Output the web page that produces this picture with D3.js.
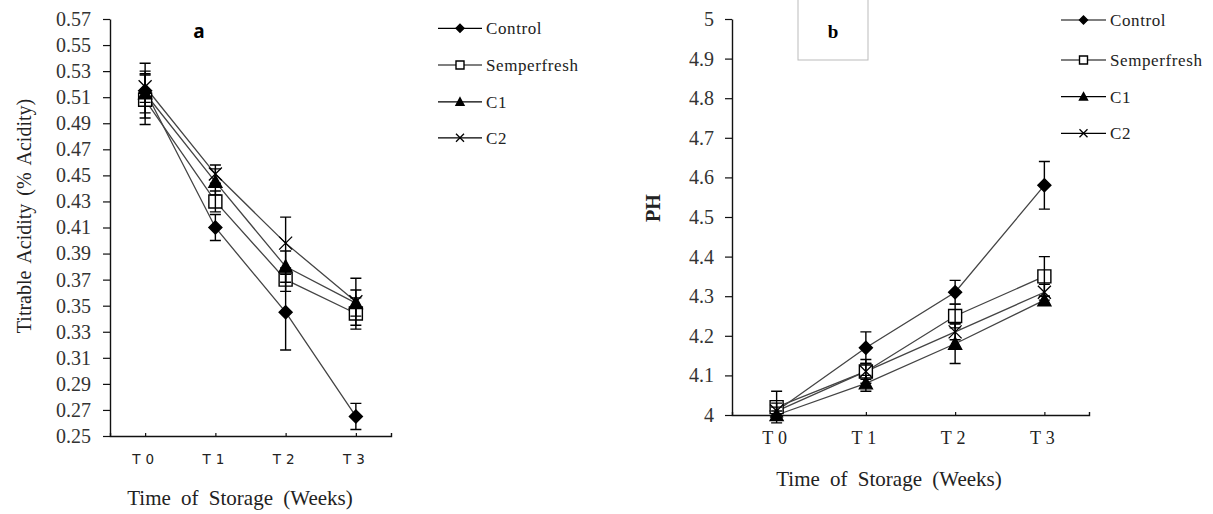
<!DOCTYPE html>
<html>
<head>
<meta charset="utf-8">
<script src="https://cdn.jsdelivr.net/npm/d3@7"></script>
<style>
  html, body { margin: 0; padding: 0; background: #fff; }
  svg { display: block; }
  .serif { font-family: "Times New Roman", "Liberation Serif", Tinos, "DejaVu Serif", serif; }
</style>
</head>
<body>
<svg id="chart"></svg>
<script>
// ---- data ----
const categories = ["T0", "T1", "T2", "T3"];
const seriesNames = ["Control", "Semperfresh", "C1", "C2"];

// panel a: titrable acidity (% acidity)
const acidityControl = [0.515, 0.41, 0.345, 0.265];
const aciditySemperfresh = [0.508, 0.43, 0.37, 0.344];
const acidityC1 = [0.513, 0.445, 0.38, 0.352];
const acidityC2 = [0.518, 0.451, 0.398, 0.353];
const acidityErrControl = [0.021, 0.01, 0.029, 0.01];
const acidityErrSemperfresh = [0.019, 0.008, 0.009, 0.012];
const acidityErrC1 = [0.015, 0.01, 0.012, 0.01];
const acidityErrC2 = [0.012, 0.007, 0.02, 0.018];
const acidityTicks = [0.25, 0.27, 0.29, 0.31, 0.33, 0.35, 0.37, 0.39, 0.41, 0.43, 0.45, 0.47, 0.49, 0.51, 0.53, 0.55, 0.57];

// panel b: pH
const pHControl = [4.01, 4.17, 4.31, 4.58];
const pHSemperfresh = [4.02, 4.11, 4.25, 4.35];
const pHC1 = [4.0, 4.08, 4.18, 4.29];
const pHC2 = [4.01, 4.11, 4.21, 4.31];
const pHErrControl = [0.02, 0.04, 0.03, 0.06];
const pHErrSemperfresh = [0.04, 0.03, 0.03, 0.05];
const pHErrC1 = [0.01, 0.02, 0.05, 0.01];
const pHErrC2 = [0.01, 0.02, 0.02, 0.02];
const pHTicks = [4, 4.1, 4.2, 4.3, 4.4, 4.5, 4.6, 4.7, 4.8, 4.9, 5];

const markerKinds = ["diamond", "square", "triangle", "cross"];

const svg = d3.select("#chart").attr("width", 1213).attr("height", 514);

// marker path centred on 0,0 with half size s
function markerPath(kind, s) {
  if (kind === "diamond") return `M0,${-s}L${s},0L0,${s}L${-s},0Z`;
  if (kind === "square") return `M${-s},${-s}H${s}V${s}H${-s}Z`;
  if (kind === "triangle") return `M0,${-s}L${s},${s * 0.85}L${-s},${s * 0.85}Z`;
  return `M${-s},${-s}L${s},${s}M${-s},${s}L${s},${-s}`;
}

function styleMarker(sel, kind) {
  sel
    .attr("fill", kind === "square" ? "#fff" : kind === "cross" ? "none" : "#000")
    .attr("stroke", "#000")
    .attr("stroke-width", kind === "cross" ? 1.3 : 1.4);
}

function drawPanel(cfg) {
  const g = svg.append("g");

  const x = d3.scalePoint().domain(categories).range(cfg.xRange).padding(0.5);
  const y = d3.scaleLinear().domain(cfg.yDomain).range(cfg.yRange);

  // y axis
  const yAxis = g.append("g")
    .attr("transform", `translate(${cfg.xRange[0]},0)`)
    .call(d3.axisLeft(y).tickValues(cfg.ticks).tickFormat(cfg.tickFormat)
      .tickSize(7).tickSizeOuter(0).tickPadding(cfg.yPad));
  yAxis.attr("font-family", null);
  yAxis.select(".domain").attr("stroke", "#111").attr("stroke-width", 1.4);
  yAxis.selectAll(".tick line").attr("stroke", "#111").attr("stroke-width", 1.2);
  yAxis.selectAll("text")
    .attr("class", "serif")
    .attr("font-size", 20)
    .attr("fill", "#333");

  // x axis, ticks pointing up into the plot
  const xAxis = g.append("g")
    .attr("transform", `translate(0,${cfg.yRange[0]})`)
    .call(d3.axisBottom(x).tickSize(-3).tickSizeOuter(-3).tickPadding(cfg.xPad));
  xAxis.attr("font-family", null);
  xAxis.select(".domain").attr("stroke", "#111").attr("stroke-width", 1.4);
  xAxis.selectAll(".tick line").attr("stroke", "#111").attr("stroke-width", 1.2);
  xAxis.selectAll("text")
    .attr("class", cfg.xSerif ? "serif" : null)
    .attr("font-family", cfg.xSerif ? null : "'DejaVu Sans', sans-serif")
    .attr("font-size", cfg.xFontSize)
    .attr("letter-spacing", cfg.xSpacing)
    .attr("fill", "#222");

  const series = seriesNames.map((name, i) => ({
    name,
    kind: markerKinds[i],
    values: cfg.values[i].map((v, j) => ({ cat: categories[j], v, e: cfg.errors[i][j] })),
  }));

  const line = d3.line().x((d) => x(d.cat)).y((d) => y(d.v));

  g.append("g").selectAll("path")
    .data(series)
    .join("path")
    .attr("d", (d) => line(d.values))
    .attr("fill", "none")
    .attr("stroke", "#444")
    .attr("stroke-width", 1.3);

  series.forEach((s) => {
    g.append("g").selectAll("path")
      .data(s.values)
      .join("path")
      .attr("transform", (d) => `translate(${x(d.cat)},${y(d.v)})`)
      .attr("d", markerPath(s.kind, 6.5))
      .call(styleMarker, s.kind);
  });

  // error bars drawn over the markers
  const capHalf = 5.5;
  series.forEach((s) => {
    g.append("g").selectAll("path")
      .data(s.values)
      .join("path")
      .attr("d", (d) => {
        const cx = x(d.cat);
        const top = y(d.v + d.e);
        const bot = y(d.v - d.e);
        return `M${cx},${top}V${bot}M${cx - capHalf},${top}H${cx + capHalf}M${cx - capHalf},${bot}H${cx + capHalf}`;
      })
      .attr("fill", "none")
      .attr("stroke", "#000")
      .attr("stroke-width", 1.4);
  });

  // axis titles
  g.append("text")
    .attr("class", "serif")
    .attr("transform", `translate(${cfg.yTitlePos[0]},${cfg.yTitlePos[1]}) rotate(-90)`)
    .attr("text-anchor", "middle")
    .attr("font-size", cfg.yTitleSize)
    .attr("font-weight", cfg.yTitleWeight)
    .attr("word-spacing", cfg.yTitleWordSpacing)
    .attr("fill", "#222")
    .text(cfg.yTitle);

  g.append("text")
    .attr("class", "serif")
    .attr("x", cfg.xTitlePos[0])
    .attr("y", cfg.xTitlePos[1])
    .attr("text-anchor", "middle")
    .attr("font-size", 21)
    .attr("word-spacing", 5)
    .attr("fill", "#222")
    .text("Time of Storage (Weeks)");

  // panel letter
  if (cfg.letterBox) {
    g.append("rect")
      .attr("x", cfg.letterBox[0])
      .attr("y", cfg.letterBox[1])
      .attr("width", cfg.letterBox[2])
      .attr("height", cfg.letterBox[3])
      .attr("fill", "#fff")
      .attr("stroke", "#bbb")
      .attr("stroke-width", 1);
  }
  g.append("text")
    .attr("class", cfg.letterSerif ? "serif" : null)
    .attr("font-family", cfg.letterSerif ? null : "'Noto Sans', sans-serif")
    .attr("x", cfg.letterPos[0])
    .attr("y", cfg.letterPos[1])
    .attr("text-anchor", "middle")
    .attr("font-size", 19)
    .attr("font-weight", "bold")
    .attr("fill", "#000")
    .text(cfg.letter);

  // legend
  const lg = g.append("g");
  series.forEach((s, i) => {
    const ly = cfg.legendRows[i];
    const [lx0, lx1] = cfg.legendLine;
    lg.append("line")
      .attr("x1", lx0).attr("x2", lx1)
      .attr("y1", ly).attr("y2", ly)
      .attr("stroke", "#000")
      .attr("stroke-width", 1.2);
    lg.append("path")
      .attr("transform", `translate(${(lx0 + lx1) / 2},${ly})`)
      .attr("d", markerPath(s.kind, 4))
      .call(styleMarker, s.kind);
    lg.append("text")
      .attr("class", "serif")
      .attr("x", lx1 + 4)
      .attr("y", ly + 6)
      .attr("font-size", 17)
      .attr("letter-spacing", 0.6)
      .attr("fill", "#222")
      .text(s.name);
  });
}

drawPanel({
  xRange: [110, 391],
  yRange: [436, 19],
  yDomain: [0.25, 0.57],
  ticks: acidityTicks,
  tickFormat: d3.format(".2f"),
  yPad: 12,
  xPad: 18,
  xSerif: false,
  xFontSize: 13.5,
  xSpacing: 5,
  values: [acidityControl, aciditySemperfresh, acidityC1, acidityC2],
  errors: [acidityErrControl, acidityErrSemperfresh, acidityErrC1, acidityErrC2],
  yTitle: "Titrable Acidity (% Acidity)",
  yTitlePos: [31, 216],
  yTitleSize: 20,
  yTitleWeight: "normal",
  yTitleWordSpacing: 3,
  xTitlePos: [240, 505],
  letter: "a",
  letterPos: [199, 38],
  letterSerif: false,
  legendLine: [438, 482],
  legendRows: [28.3, 65, 101.8, 137.8],
});

drawPanel({
  xRange: [732, 1089],
  yRange: [415, 19],
  yDomain: [4, 5],
  ticks: pHTicks,
  tickFormat: (d) => String(+d.toFixed(1)),
  yPad: 11,
  xPad: 16,
  xSerif: true,
  xFontSize: 18,
  xSpacing: 5,
  values: [pHControl, pHSemperfresh, pHC1, pHC2],
  errors: [pHErrControl, pHErrSemperfresh, pHErrC1, pHErrC2],
  yTitle: "PH",
  yTitlePos: [660, 208],
  yTitleSize: 20,
  yTitleWeight: "bold",
  yTitleWordSpacing: 0,
  xTitlePos: [889, 486],
  letter: "b",
  letterPos: [833, 38],
  letterSerif: true,
  letterBox: [798, -1, 70, 61],
  legendLine: [1061, 1106],
  legendRows: [20, 60, 96.7, 133.3],
});
</script>
</body>
</html>
